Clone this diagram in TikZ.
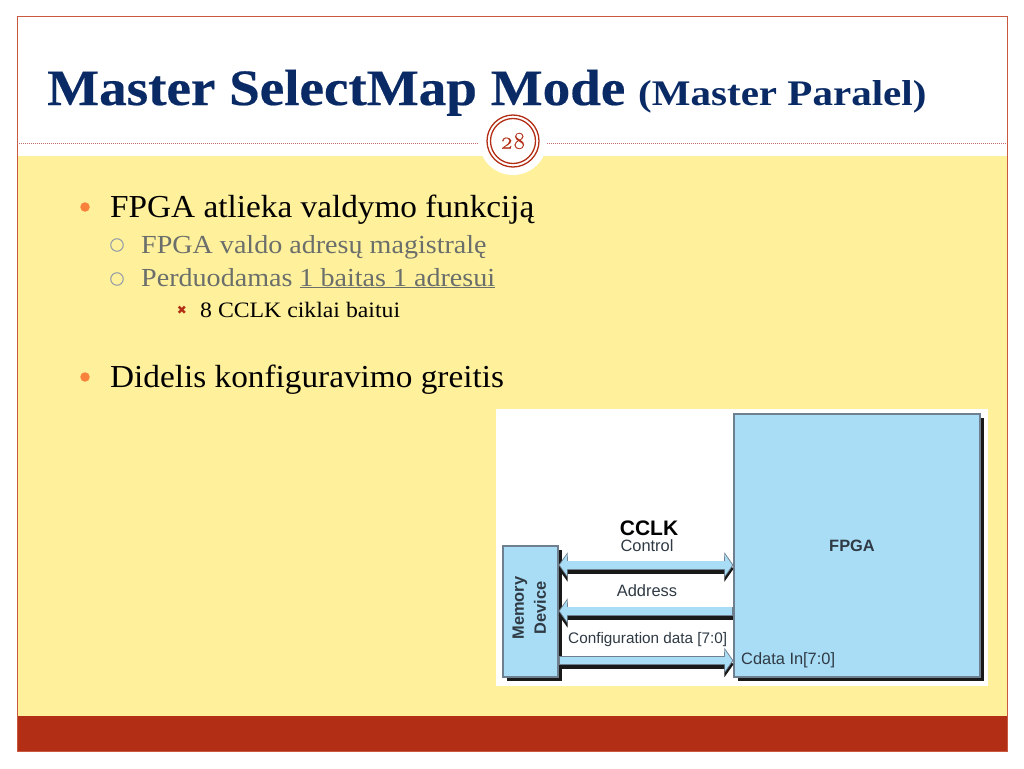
\documentclass[tikz,border=0pt]{standalone}
\usepackage{fontspec}
\setmainfont{Liberation Serif}
\setsansfont{Liberation Sans}
\newfontfamily\fontnarrow{Liberation Serif}[FakeStretch=1.04]
\newfontfamily\fontmid{Liberation Serif}[FakeStretch=1.08]
\newfontfamily\fontwide{Liberation Serif}[FakeStretch=1.14]
\newfontfamily\fonttitle{Liberation Serif Bold}[FakeStretch=1.08,FakeBold=0.4]
\newfontfamily\fontnum{Latin Modern Roman}[Numbers=OldStyle,FakeBold=0.4]
\newfontfamily\fontsym{DejaVu Sans}
\usetikzlibrary{arrows.meta,shadows}

\definecolor{slideyellow}{HTML}{FFF09C}
\definecolor{slidered}{HTML}{B22E14}
\definecolor{frameline}{HTML}{C8593F}
\definecolor{dotline}{HTML}{C46A6A}
\definecolor{titleblue}{HTML}{0A2A66}
\definecolor{subgrey}{HTML}{6B6F6B}
\definecolor{ringgrey}{HTML}{8E98A8}
\definecolor{boxblue}{HTML}{A9DDF6}
\definecolor{boxedge}{HTML}{6E8090}
\definecolor{orangedot}{HTML}{F8823C}
\definecolor{hwink}{HTML}{2F3A44}

\tikzset{
  x=1pt, y=-1pt,
  headline/.style={anchor=base west, text=titleblue, inner sep=0pt},
  mainitem/.style={anchor=base west, inner sep=0pt, text=black, font=\fontnarrow\fontsize{32}{36}\selectfont},
  subitem/.style={anchor=base west, inner sep=0pt, text=subgrey, font=\fontmid\fontsize{26}{30}\selectfont},
  smallitem/.style={anchor=base west, inner sep=0pt, text=black, font=\fontmid\fontsize{22}{26}\selectfont},
  dotitem/.style={circle, fill=orangedot, inner sep=0pt, minimum size=9.5pt},
  ringitem/.style={circle, draw=ringgrey, line width=1pt, inner sep=0pt, minimum size=12.5pt},
  hwbox/.style={draw=boxedge, fill=boxblue, line width=1.2pt, inner sep=0pt,
    drop shadow={shadow xshift=4pt, shadow yshift=-4pt, fill=black!90, opacity=1}},
  hwtext/.style={font=\sffamily\fontsize{16.4}{20}\selectfont, text=hwink, inner sep=0pt},
  hwbold/.style={font=\sffamily\bfseries\fontsize{16.4}{20}\selectfont, text=hwink, inner sep=0pt},
  busdark/.style={line width=9pt, draw=black!90, fill=black!90, >={Triangle[length=9pt,width=25pt]}},
  busedge/.style={line width=9pt, draw=boxedge, fill=boxedge, >={Triangle[length=9pt,width=25pt]}},
  busfill/.style={line width=7.4pt, draw=boxblue, fill=boxblue, shorten >=1.2pt, shorten <=1.2pt,
    >={Triangle[length=7.4pt,width=21pt]}},
}
\newcommand{\busline}[2]{
  \draw[busdark,#2] (memdev.east |- 0,#1+4) -- (fpga.west |- 0,#1+4);
  \draw[busedge,#2] (memdev.east |- 0,#1) -- (fpga.west |- 0,#1);
  \draw[busfill,#2] (memdev.east |- 0,#1) -- (fpga.west |- 0,#1);
}

\begin{document}
\begin{tikzpicture}
\useasboundingbox (0,0) rectangle (1024,768);
\fill[white] (0,0) rectangle (1024,768);

% slide background
\fill[slideyellow] (17,156) rectangle (1007,716);
\fill[slidered] (17,716) rectangle (1007,751);
\draw[draw=frameline, line width=1pt] (17,17) rectangle (1007,751);
\draw[draw=dotline, densely dotted, line width=1pt] (17,143) -- (1007,143);

\node[circle, fill=white, minimum size=68pt, inner sep=0pt] (numdisc) at (513,141) {};
\node[circle, draw=slidered, line width=1.3pt, minimum size=52pt, inner sep=0pt] (numouter) at (numdisc) {};
\node[circle, draw=slidered, line width=1.3pt, minimum size=45pt, inner sep=0pt, text=slidered,
  font=\fontnum\fontsize{24}{28}\selectfont] (numinner) at (numdisc) {28};

% title
\node[headline, font=\fonttitle\fontsize{51}{56}\selectfont] (title) at (47,105) {Master SelectMap Mode};
\node[headline, font=\fontwide\bfseries\fontsize{36}{40}\selectfont] (subtitle) at (638,105) {(Master Paralel)};

% bullets
\node[dotitem] (dota) at (85,207) {};
\node[mainitem] (itema) at (110,217) {FPGA atlieka valdymo funkciją};
\node[ringitem] (ringa) at (117,245) {};
\node[subitem] (itemb) at (141,253) {FPGA valdo adresų magistralę};
\node[ringitem] (ringb) at (117,279) {};
\node[subitem] (itemc) at (141,286) {Perduodamas \underline{1 baitas 1 adresui}};
\node[text=slidered, inner sep=0pt, font=\fontsym\fontsize{12}{14}\selectfont] (starc) at (182,310) {✖};
\node[smallitem] (itemd) at (200,317) {8 CCLK ciklai baitui};
\node[dotitem] (dotb) at (85,377) {};
\node[mainitem] (iteme) at (110,387) {Didelis konfiguravimo greitis};

% figure
\fill[white] (496,409) rectangle (988,686);
\node[hwbox, minimum width=246pt, minimum height=263pt] (fpga) at (857,545.5) {};
\node[hwbox, minimum width=55pt, minimum height=131pt] (memdev) at (530.5,611.5) {};

\busline{565}{<->}
\busline{611}{<-}
\busline{660.5}{->}

\node[hwbold] (fpgalabel) at (852,546) {FPGA};
\node[hwbold, rotate=90] (memlabel) at (520,608) {Memory};
\node[hwbold, rotate=90] (devlabel) at (540,608) {Device};
\node[font=\sffamily\bfseries\fontsize{21}{25}\selectfont, text=black, inner sep=0pt] (cclk) at (649,528) {CCLK};
\node[hwtext] (control) at (647,546) {Control};
\node[hwtext] (address) at (647,591) {Address};
\node[hwtext, anchor=base west, font=\sffamily\fontsize{15.3}{18}\selectfont] (cfgdata) at (568,643) {Configuration data [7:0]};
\node[hwtext, anchor=base west] (cdatain) at (741,664) {Cdata In[7:0]};
\end{tikzpicture}
\end{document}
